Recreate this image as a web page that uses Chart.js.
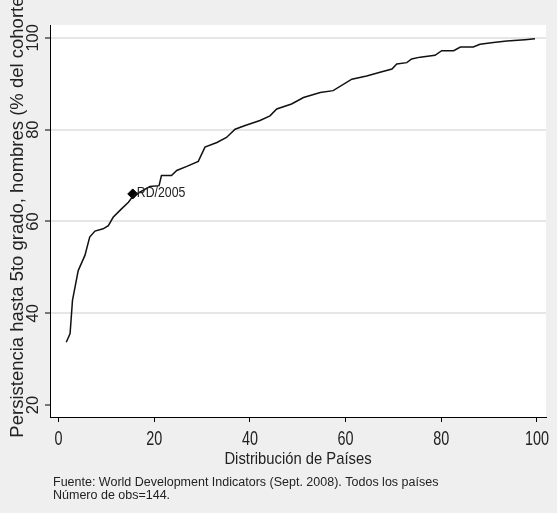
<!DOCTYPE html>
<html lang="es">
<head>
    <meta charset="UTF-8">
    <title>Persistencia hasta 5to grado</title>
    <style>
        body {
            margin: 0;
            padding: 0;
            background-color: #efefef;
        }

        canvas {
            display: block;
        }
    </style>
</head>
<body>
    <canvas id="chart" width="557" height="513"></canvas>
    <script src="https://cdn.jsdelivr.net/npm/chart.js"></script>
    <script>
        // percentile position of each country (x) and persistence to 5th grade, males (y)
        const distribucion = [1.6, 2.4, 2.9, 4.1, 5.5, 6.5, 7.6, 9.3, 10.4, 11.4, 13.2, 14.6, 15.6, 19.1, 21.0, 21.5, 23.6, 24.7, 26.8, 29.2,
            30.6, 33.1, 35.1, 36.9, 39.0, 42.1, 44.2, 45.6, 48.7, 51.2, 54.7, 57.4, 61.3, 64.4, 67.2, 69.7, 70.7, 72.8, 73.8, 75.6,
            78.7, 80.1, 82.6, 84.0, 86.7, 88.1, 90.9, 93.7, 97.5, 99.6];
        const persistencia = [33.7, 35.6, 42.8, 49.3, 52.6, 56.6, 57.9, 58.4, 59.1, 60.9, 62.8, 64.2, 65.6, 67.6, 67.8, 70.0, 70.0, 71.1, 72.0, 73.1,
            76.2, 77.2, 78.3, 80.1, 80.9, 82.0, 83.0, 84.5, 85.6, 87.0, 88.1, 88.5, 91.0, 91.7, 92.5, 93.2, 94.3, 94.6, 95.4, 95.8,
            96.2, 97.2, 97.2, 98.0, 98.0, 98.6, 99.0, 99.3, 99.6, 99.8];

        // highlighted country
        const rdX = [15.5];
        const rdY = [66];
        const rdLabel = 'RD/2005';

        const xTicks = [0, 20, 40, 60, 80, 100];
        const yTicks = [20, 40, 60, 80, 100];

        const xTitle = 'Distribución de Países';
        const yTitle = 'Persistencia hasta 5to grado, hombres (% del cohorte)';
        const notas = [
            'Fuente: World Development Indicators (Sept. 2008). Todos los países',
            'Número de obs=144.'
        ];

        const fontFam = '"Liberation Sans", Arial, sans-serif';

        // the original is horizontally squeezed, so squeeze horizontal text too
        function squeezed(ctx, text, x, y, sx, align) {
            ctx.save();
            ctx.translate(x, y);
            ctx.scale(sx, 1);
            ctx.textAlign = align;
            ctx.fillText(text, 0, 0);
            ctx.restore();
        }

        const fondo = {
            id: 'fondo',
            beforeDraw(chart) {
                const { ctx, chartArea: a } = chart;
                ctx.save();
                ctx.fillStyle = '#efefef';
                ctx.fillRect(0, 0, chart.width, chart.height);
                ctx.fillStyle = '#ffffff';
                ctx.fillRect(a.left, a.top, a.right - a.left, a.bottom - a.top);
                ctx.restore();
            }
        };

        const textos = {
            id: 'textos',
            afterDraw(chart) {
                const ctx = chart.ctx;
                const a = chart.chartArea;
                const y = chart.scales.y;
                const x = chart.scales.x;
                ctx.save();
                ctx.fillStyle = '#222';

                // y tick labels, rotated like Stata
                ctx.font = '16.5px ' + fontFam;
                ctx.textAlign = 'center';
                ctx.textBaseline = 'middle';
                y.ticks.forEach(t => {
                    ctx.save();
                    ctx.translate(33, y.getPixelForValue(t.value));
                    ctx.rotate(-Math.PI / 2);
                    ctx.fillText(String(t.value), 0, 0);
                    ctx.restore();
                });

                // y title
                ctx.save();
                ctx.font = '18.5px ' + fontFam;
                ctx.translate(18, 214);
                ctx.rotate(-Math.PI / 2);
                ctx.fillText(yTitle, 0, 0);
                ctx.restore();

                // x tick labels and title
                ctx.textBaseline = 'alphabetic';
                ctx.font = '20px ' + fontFam;
                x.ticks.forEach(t => {
                    squeezed(ctx, String(t.value), x.getPixelForValue(t.value), 445, 0.72, 'center');
                });
                ctx.font = '17px ' + fontFam;
                squeezed(ctx, xTitle, (a.left + a.right) / 2, 464, 0.87, 'center');

                // label next to the marker
                ctx.font = '14px ' + fontFam;
                ctx.textBaseline = 'middle';
                squeezed(ctx, rdLabel, x.getPixelForValue(rdX[0]) + 4, y.getPixelForValue(rdY[0]) - 1, 0.88, 'left');

                // footnote
                ctx.font = '12.5px ' + fontFam;
                ctx.textBaseline = 'alphabetic';
                notas.forEach((linea, i) => {
                    squeezed(ctx, linea, 53, 486 + i * 13, 1, 'left');
                });
                ctx.restore();
            }
        };

        new Chart(document.getElementById('chart'), {
            type: 'scatter',
            data: {
                datasets: [
                    {
                        data: distribucion.map((v, i) => ({ x: v, y: persistencia[i] })),
                        showLine: true,
                        borderColor: '#111',
                        borderWidth: 1.5,
                        pointRadius: 0,
                        tension: 0
                    },
                    {
                        data: rdX.map((v, i) => ({ x: v, y: rdY[i] })),
                        pointStyle: 'rectRot',
                        pointRadius: 5,
                        backgroundColor: '#000',
                        borderColor: '#000',
                        borderWidth: 1
                    }
                ]
            },
            options: {
                responsive: false,
                animation: false,
                layout: {
                    padding: { top: 25, right: 11, bottom: 46, left: 0 }
                },
                plugins: {
                    legend: { display: false },
                    tooltip: { enabled: false }
                },
                scales: {
                    x: {
                        type: 'linear',
                        min: -1.8,
                        max: 101.9,
                        afterBuildTicks: scale => { scale.ticks = xTicks.map(v => ({ value: v })); },
                        afterFit: scale => { scale.height = 50; },
                        border: { color: '#000', width: 1 },
                        grid: { drawOnChartArea: false, tickLength: 5, tickColor: '#000' },
                        ticks: { color: 'rgba(0,0,0,0)' }
                    },
                    y: {
                        type: 'linear',
                        min: 17.4,
                        max: 102.8,
                        afterBuildTicks: scale => { scale.ticks = yTicks.map(v => ({ value: v })); },
                        afterFit: scale => { scale.width = 50; },
                        border: { color: '#000', width: 1 },
                        grid: {
                            color: c => (c.tick && c.tick.value === 20) ? 'rgba(0,0,0,0)' : '#e6e6e6',
                            lineWidth: 2,
                            tickLength: 5,
                            tickColor: '#000',
                            tickWidth: 1
                        },
                        ticks: { color: 'rgba(0,0,0,0)' }
                    }
                }
            },
            plugins: [fondo, textos]
        });
    </script>
</body>
</html>
